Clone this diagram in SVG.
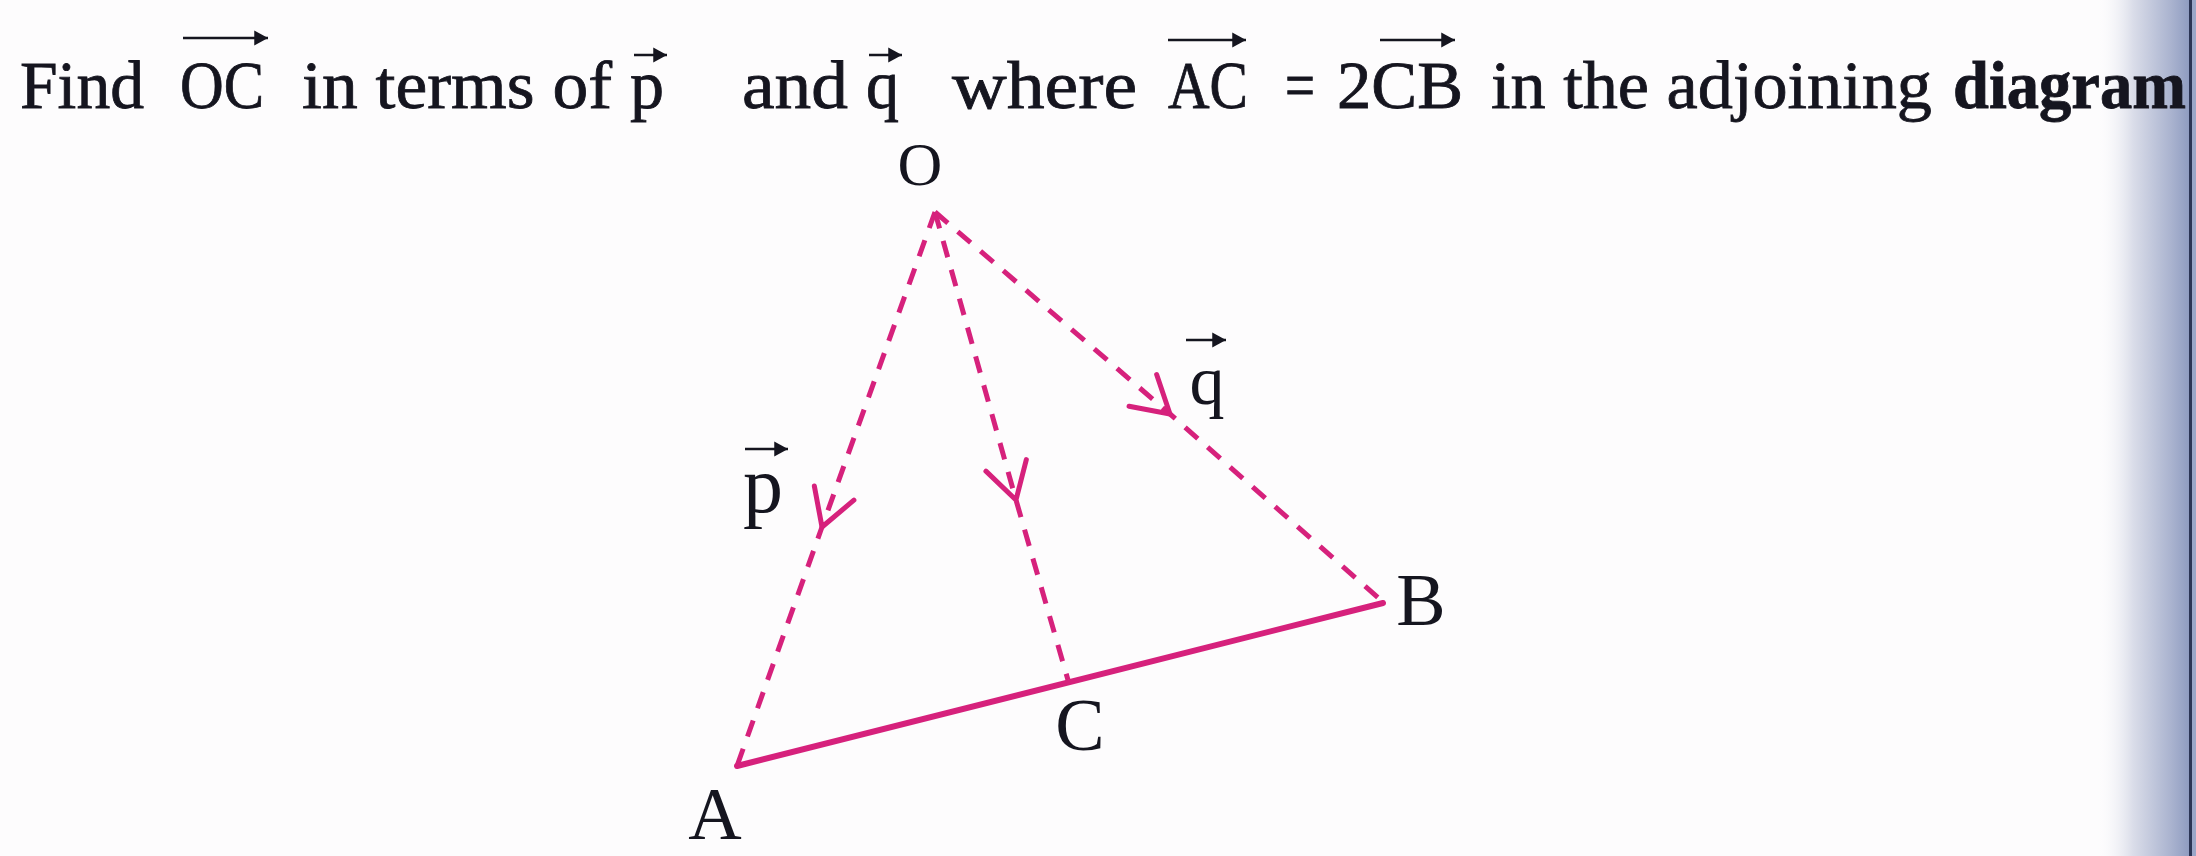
<svg xmlns="http://www.w3.org/2000/svg" width="2196" height="856" viewBox="0 0 2196 856">
<defs>
<style>
.t{font-family:"Liberation Serif","DejaVu Serif",serif;fill:#15151f}
.title{font-size:68px;stroke:#15151f;stroke-width:0.8}
.lbl{font-size:74px}
.dash{fill:none;stroke:#d6217c;stroke-width:5;stroke-dasharray:17 13}
.solid{fill:none;stroke:#d6217c;stroke-width:6;stroke-linecap:round}
.vec{stroke:#15151f;stroke-width:2.6;fill:none}
.chev{fill:none;stroke:#d6217c;stroke-width:5;stroke-dasharray:none;stroke-linecap:round;stroke-linejoin:round}
</style>
<marker id="chev" markerUnits="userSpaceOnUse" orient="auto" markerWidth="80" markerHeight="80" viewBox="-50 -40 80 80" refX="0" refY="0" overflow="visible">
<path class="chev" d="M-36,-21 L0,0 L-36,21"/>
</marker>
<marker id="ah" markerUnits="userSpaceOnUse" orient="auto" markerWidth="20" markerHeight="20" viewBox="-12 -8 16 16" refX="0" refY="0" overflow="visible">
<path d="M-11,-6 L0,0 L-11,6 Z" fill="#15151f"/>
</marker>
<linearGradient id="edge" x1="0" y1="0" x2="1" y2="0">
<stop offset="0" stop-color="#ffffff" stop-opacity="0"/>
<stop offset="0.4" stop-color="#dadde9"/>
<stop offset="0.8" stop-color="#aab3cf"/>
<stop offset="1" stop-color="#8e9bc0"/>
</linearGradient>
</defs>
<rect x="0" y="0" width="2196" height="856" fill="#fdfcfd"/>
<rect x="2095" y="0" width="95" height="856" fill="url(#edge)"/>
<rect x="2189" y="0" width="3" height="856" fill="#2b3455"/>
<rect x="2192" y="0" width="4" height="856" fill="#9aa6c8"/>

<g id="title">
<text class="t title" x="20" y="108" textLength="124" lengthAdjust="spacingAndGlyphs">Find</text>
<text class="t title" x="180" y="108" textLength="84" lengthAdjust="spacingAndGlyphs">OC</text>
<path class="vec" d="M183,38 L268,38" marker-end="url(#ah)"/>
<text class="t title" x="302" y="108" textLength="310" lengthAdjust="spacingAndGlyphs">in terms of</text>
<text class="t title" x="630" y="108" textLength="34" lengthAdjust="spacingAndGlyphs">p</text>
<path class="vec" d="M634,55 L667,55" marker-end="url(#ah)"/>
<text class="t title" x="742" y="108" textLength="106" lengthAdjust="spacingAndGlyphs">and</text>
<text class="t title" x="866" y="108" textLength="33" lengthAdjust="spacingAndGlyphs">q</text>
<path class="vec" d="M869,55 L902,55" marker-end="url(#ah)"/>
<text class="t title" x="952" y="108" textLength="185" lengthAdjust="spacingAndGlyphs">where</text>
<text class="t title" x="1168" y="108" textLength="80" lengthAdjust="spacingAndGlyphs">AC</text>
<path class="vec" d="M1168,40 L1246,40" marker-end="url(#ah)"/>
<text class="t title" x="1285" y="108" textLength="30" lengthAdjust="spacingAndGlyphs">=</text>
<text class="t title" x="1337" y="108" textLength="126" lengthAdjust="spacingAndGlyphs">2CB</text>
<path class="vec" d="M1380,40 L1455,40" marker-end="url(#ah)"/>
<text class="t title" x="1491" y="108" textLength="441" lengthAdjust="spacingAndGlyphs">in the adjoining</text>
<text class="t title" x="1953" y="108" textLength="233" lengthAdjust="spacingAndGlyphs" font-weight="bold">diagram</text>
</g>

<g id="connectors">
<path id="OA" class="dash" d="M935,212 L822,527 L737,766" marker-mid="url(#chev)"/>
<path id="OC" class="dash" d="M935,212 L1016,500 L1068,680" marker-mid="url(#chev)"/>
<path id="OB" class="dash" d="M935,212 L1170,414 L1383,602" marker-mid="url(#chev)"/>
<path id="AB" class="solid" d="M737,766 L1383,603"/>
</g>

<g id="node-O"><text class="t" font-size="62" x="920" y="185" text-anchor="middle">O</text></g>
<g id="node-A"><text class="t lbl" x="715" y="839" text-anchor="middle">A</text></g>
<g id="node-B"><text class="t lbl" x="1421" y="625" text-anchor="middle">B</text></g>
<g id="node-C"><text class="t lbl" x="1080" y="750" text-anchor="middle">C</text></g>
<g id="label-p">
<text class="t" font-size="80" x="763" y="512" text-anchor="middle">p</text>
<path class="vec" d="M745,449 L788,449" marker-end="url(#ah)"/>
</g>
<g id="label-q">
<text class="t" font-size="70" x="1207" y="404" text-anchor="middle">q</text>
<path class="vec" d="M1186,340 L1226,340" marker-end="url(#ah)"/>
</g>
</svg>
